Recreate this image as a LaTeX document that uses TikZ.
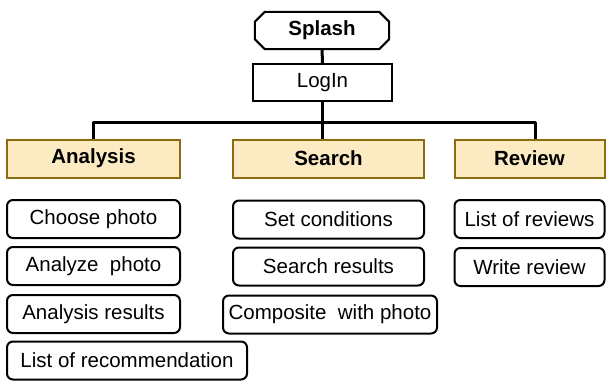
\documentclass[tikz,border=0pt]{standalone}
\usepackage{fontspec}
\setmainfont{Liberation Sans}
\usetikzlibrary{calc}
\definecolor{catfill}{HTML}{FCEBC2}
\definecolor{catdraw}{HTML}{8C6B12}
\tikzset{
  txt/.style={font=\fontsize{20.5}{24}\selectfont, inner sep=0pt},
  catbox/.style={txt, font=\fontsize{20.5}{24}\selectfont\bfseries, draw=catdraw, fill=catfill, line width=2pt, minimum height=38},
  itembox/.style={txt, draw=black, line width=2pt, rounded corners=6pt, minimum height=38},
  plainbox/.style={txt, draw=black, line width=2pt, minimum height=37},
  conn/.style={line width=3pt, line join=round},
}
\begin{document}
\begin{tikzpicture}[x=1pt,y=-1pt]
\useasboundingbox (0,0) rectangle (607,380);
% top
\node[txt, font=\fontsize{20.5}{24}\selectfont\bfseries, minimum width=134, minimum height=37] (splash) at (322,30.5) {Splash};
\draw[line width=2pt] ([xshift=10pt]splash.north west) -- ([xshift=-10pt]splash.north east)
  -- ([yshift=-10pt]splash.north east) -- ([yshift=10pt]splash.south east)
  -- ([xshift=-10pt]splash.south east) -- ([xshift=10pt]splash.south west)
  -- ([yshift=10pt]splash.south west) -- ([yshift=-10pt]splash.north west) -- cycle;
\node[plainbox, minimum width=139] (login) at (322.5,82.5) {LogIn};
% categories
\node[catbox, minimum width=173] (analysis) at (93.5,158.5) {Analysis};
\node[catbox, minimum width=191] (search) at (328.5,158.5) {Search};
\node[catbox, minimum width=150] (review) at (529.5,158.5) {Review};
% items
\node[itembox, minimum width=173] (choose) at (93.5,219) {Choose photo};
\node[itembox, minimum width=173] (analyze) at (93.5,266) {Analyze~ photo};
\node[itembox, minimum width=173] (aresults) at (93.5,314) {Analysis results};
\node[itembox, minimum width=240] (recomm) at (127,360.5) {List of recommendation};
\node[itembox, minimum width=191] (setcond) at (328.5,219.5) {Set conditions};
\node[itembox, minimum width=191] (sresults) at (328.5,266.5) {Search results};
\node[itembox, minimum width=214] (composite) at (330,314.5) {Composite~ with photo};
\node[itembox, minimum width=150] (listrev) at (529.5,219) {List of reviews};
\node[itembox, minimum width=150] (writerev) at (529.5,267) {Write review};
% connectors
\coordinate (bus) at (0,122);
\coordinate (aup) at (93,122);
\coordinate (sup) at (322.5,122);
\coordinate (rup) at (535,122);
\draw[conn] (splash.south) -- (login.north);
\draw[conn] (login.south) -- (sup);
\draw[conn] (aup |- analysis.north) -- (aup) -- (rup) -- (rup |- review.north);
\draw[conn] (sup) -- (sup |- search.north);
\end{tikzpicture}
\end{document}
